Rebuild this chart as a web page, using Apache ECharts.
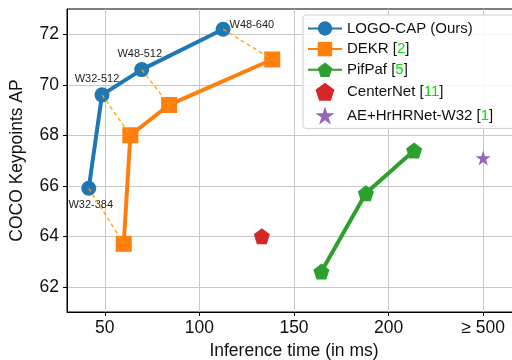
<!DOCTYPE html>
<html>
<head>
<meta charset="utf-8">
<script src="https://cdn.jsdelivr.net/npm/echarts@6/dist/echarts.min.js"></script>
<style>html,body{margin:0;padding:0;background:#fff}#c{width:512px;height:360px}</style>
</head>
<body>
<div id="c"></div>
<script>
// ---- data ----
const logoX = [41.5, 48.5, 69.5, 112.5];
const logoY = [65.9, 69.6, 70.6, 72.2];
const logoLabels = ['W32-384', 'W32-512', 'W48-512', 'W48-640'];
const dekrX = [60, 63.5, 84, 138.5];
const dekrY = [63.7, 68.0, 69.2, 71.0];
const pifX = [164.5, 188, 213.5];
const pifY = [62.6, 65.7, 67.4];
const centerX = [133];
const centerY = [64.0];
const aeX = [250];          // plotted at the ">= 500" position
const aeY = [67.1];
const xTickValues = [50, 100, 150, 200, 250];
const xTickLabels = ['50', '100', '150', '200', '≥ 500'];
const yTickValues = [62, 64, 66, 68, 70, 72];
const seriesNames = ['LOGO-CAP (Ours)', 'DEKR', 'PifPaf', 'CenterNet', 'AE+HrHRNet-W32'];
const citations = ['', '2', '5', '11', '1'];

const pentagon = 'path://M0,-1 L0.951,-0.309 L0.588,0.809 L-0.588,0.809 L-0.951,-0.309 Z';
const star = 'path://M0,-1 L0.2245,-0.309 L0.951,-0.309 L0.363,0.118 L0.588,0.809 L0,0.382 L-0.588,0.809 L-0.363,0.118 L-0.951,-0.309 L-0.2245,-0.309 Z';

const zip = (xs, ys) => xs.map((x, i) => [x, ys[i]]);
const labelPos = [
  {position: 'bottom', distance: 4, offset: [2, 0]},
  {position: 'top', distance: 3, offset: [-5, 0]},
  {position: 'top', distance: 3, offset: [-2, 0]},
  {position: 'right', distance: 0, offset: [-1, -4]}
];
const logoData = logoX.map((x, i) => ({
  value: [x, logoY[i]],
  label: Object.assign({show: true, formatter: logoLabels[i]}, labelPos[i])
}));
const dashData = logoX.map((x, i) => ({coords: [[x, logoY[i]], [dekrX[i], dekrY[i]]]}));

const font = 'Liberation Sans, Arial, Helvetica, sans-serif';
const chart = echarts.init(document.getElementById('c'), null, {renderer: 'canvas'});
chart.setOption({
  animation: false,
  grid: {left: 67, top: 9, bottom: 48, right: -9, outerBoundsMode: 'none', containLabel: false,
    show: true, borderColor: '#000', borderWidth: 1, backgroundColor: 'transparent'},
  xAxis: {
    type: 'value', min: 30, max: 270,
    axisLine: {show: true, lineStyle: {color: '#000', width: 1}},
    axisTick: {show: true, customValues: xTickValues, length: 4, inside: false, lineStyle: {color: '#000'}},
    axisLabel: {customValues: xTickValues, margin: 7, color: '#111', fontSize: 17.5, fontFamily: font,
      formatter: v => xTickLabels[xTickValues.indexOf(v)] ?? ''},
    splitLine: {show: true, customValues: xTickValues, lineStyle: {color: '#c8c8c8', width: 1}},
    name: 'Inference time (in ms)', nameLocation: 'middle', nameGap: 28,
    nameTextStyle: {fontSize: 17.5, color: '#111', fontFamily: font}
  },
  yAxis: {
    type: 'value', min: 61, max: 73,
    axisLine: {show: true, lineStyle: {color: '#000', width: 1}},
    axisTick: {show: true, customValues: yTickValues, length: 4, inside: false, lineStyle: {color: '#000'}},
    axisLabel: {customValues: yTickValues, margin: 8, color: '#111', fontSize: 17.5, fontFamily: font},
    splitLine: {show: true, customValues: yTickValues, lineStyle: {color: '#c8c8c8', width: 1}},
    name: 'COCO Keypoints AP', nameLocation: 'middle', nameGap: 41,
    nameTextStyle: {fontSize: 17.5, color: '#111', fontFamily: font}
  },
  legend: {
    orient: 'vertical', left: 303, top: 15,
    data: seriesNames,
    itemWidth: 34, itemHeight: 18, itemGap: 5.6,
    padding: [6, 22, 4, 4],
    backgroundColor: 'rgba(255,255,255,0.85)',
    borderColor: '#d0d0d0', borderWidth: 1, borderRadius: 3,
    textStyle: {fontSize: 15, color: '#111', fontFamily: font,
      rich: {t: {fontSize: 15, color: '#111', fontFamily: font}, g: {fontSize: 15, color: '#00e000', fontFamily: font}}},
    formatter: name => {
      const c = citations[seriesNames.indexOf(name)];
      return c ? '{t|' + name + ' [}{g|' + c + '}{t|]}' : '{t|' + name + '}';
    }
  },
  series: [
    {
      name: seriesNames[0], type: 'line', data: logoData,
      symbol: 'circle', symbolSize: 15, color: '#1f77b4',
      lineStyle: {width: 4, color: '#1f77b4'}, itemStyle: {color: '#1f77b4'},
      label: {fontSize: 11, color: '#222', fontFamily: font}, z: 5
    },
    {
      name: seriesNames[1], type: 'line', data: zip(dekrX, dekrY),
      symbol: 'rect', symbolSize: 16, color: '#ff7f0e',
      lineStyle: {width: 4, color: '#ff7f0e'}, itemStyle: {color: '#ff7f0e'}, z: 4
    },
    {
      name: seriesNames[2], type: 'line', data: zip(pifX, pifY),
      symbol: pentagon, symbolSize: 16, color: '#2ca02c',
      lineStyle: {width: 4, color: '#2ca02c'}, itemStyle: {color: '#2ca02c'}, z: 4
    },
    {
      name: seriesNames[3], type: 'scatter', data: zip(centerX, centerY),
      symbol: pentagon, symbolSize: 16, itemStyle: {color: '#d62728', opacity: 1}, z: 4
    },
    {
      name: seriesNames[4], type: 'scatter', data: zip(aeX, aeY),
      symbol: star, symbolSize: 15, itemStyle: {color: '#9467bd', opacity: 1}, z: 4
    },
    {
      name: 'pairs', type: 'lines', coordinateSystem: 'cartesian2d', data: dashData,
      lineStyle: {color: '#ffa500', width: 1.3, type: [4, 3], opacity: 1}, z: 6, silent: true
    }
  ]
});
</script>
</body>
</html>
